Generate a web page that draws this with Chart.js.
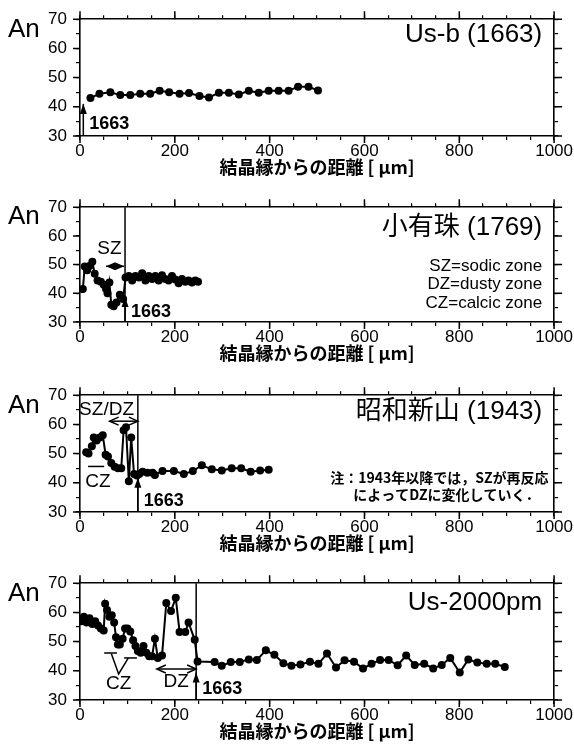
<!DOCTYPE html>
<html>
<head>
<meta charset="utf-8">
<script src="https://cdn.jsdelivr.net/npm/chart.js@4.4.1/dist/chart.umd.min.js"></script>
<style>
    body { margin: 0; background: #fff; width: 574px; height: 747px; position: relative; overflow: hidden; }
    canvas { position: absolute; left: 0; }
</style>
</head>
<body>
<canvas id="panelUsb" width="574" height="188" style="top:0px"></canvas>
<canvas id="panelKousu" width="574" height="188" style="top:188px"></canvas>
<canvas id="panelShowa" width="574" height="188" style="top:376px"></canvas>
<canvas id="panelUs2000" width="574" height="183" style="top:564px"></canvas>
<script>
// Ejes comunes
const xTickLabels = [0, 200, 400, 600, 800, 1000];
const yTickLabels = [30, 40, 50, 60, 70];

// Us-b (1663)
const usbDist = [22, 41, 64, 85, 106, 127, 148, 168, 188, 210, 230, 252, 272, 293, 314, 335, 356, 377, 398, 419, 440, 460, 482, 502];
const usbAn = [43.0, 44.5, 45.0, 44.0, 44.0, 44.5, 44.5, 45.5, 45.0, 44.5, 44.7, 43.7, 43.2, 44.8, 44.8, 44.2, 45.5, 44.8, 45.5, 45.5, 45.5, 46.9, 46.9, 45.6];

// 小有珠 (1769)
const kousuDist = [6, 10, 15, 20, 26, 31, 37, 44, 50, 55, 58, 62, 66, 71, 77, 84, 91,
    96, 103, 110, 117, 124, 131, 138, 145, 152, 159, 166, 173, 180, 187, 194, 201, 208, 215, 222, 229, 236, 243, 249];
const kousuAn = [41.5, 49.3, 48, 49.5, 51, 46.8, 44.5, 44, 43, 41.5, 40, 43.8, 36, 35.5, 36.8, 39.5, 38,
    45.5, 46, 44.5, 46, 45.5, 47, 44.5, 46, 45, 46, 44.5, 46.3, 45, 44.5, 46, 44.8, 43.5, 45, 44, 44.5, 43.8, 44.5, 44];

// 昭和新山 (1943)
const showaDist = [13, 18, 25, 29, 35, 42, 48, 54, 59, 66, 73, 80, 87, 92, 97, 103, 108, 114, 120,
    125, 132, 142, 153, 158, 174, 198, 219, 238, 257, 278, 299, 320, 340, 360, 380, 398];
const showaAn = [50.5, 50, 52.5, 55.5, 54.5, 55.5, 56.3, 49.6, 49, 46.8, 45.5, 45, 45, 58, 59, 40.5, 55.5, 43, 42.5,
    43, 43.8, 43.4, 43.4, 42.7, 44, 44, 43, 44, 46, 44.6, 44.2, 45, 45, 43.8, 44.2, 44.5];

// Us-2000pm
const us2000Dist = [3, 8, 14, 20, 26, 32, 38, 44, 50, 53, 57, 62, 67, 72, 76, 80, 84, 90, 95, 100,
    106, 112, 117, 122, 128, 134, 140, 146, 152, 158, 164, 173, 182, 192, 202, 210, 222, 229, 242, 248,
    284, 299, 318, 337, 356, 373, 392, 410, 429, 446, 465, 485, 503, 521, 540, 558, 578, 597, 615, 633,
    651, 670, 688, 706, 726, 745, 763, 781, 801, 819, 838, 858, 876, 896];
const us2000An = [57, 58.5, 56.5, 58, 56, 57, 55.5, 54.5, 53.8, 63, 60.8, 58.5, 59, 56.5, 51.5, 49, 49, 51, 54.5, 54.5,
    53.5, 50.5, 48.5, 46.8, 46.2, 48.5, 46.2, 45, 45, 51, 44.4, 45.2, 63.2, 60.5, 65, 53.3, 53.3, 56.5, 50.6, 43.2,
    43, 41.7, 43, 43, 43.9, 43.7, 47, 45.5, 42.6, 41.7, 42.2, 43.1, 42.4, 45.9, 41.1, 43.6, 43.1, 40.8, 42.4, 43.7,
    43.7, 41.9, 45.2, 42, 42.4, 40.8, 42, 44.4, 39.4, 43.9, 42.8, 42.4, 42.4, 41.3];

const LATIN = '"Liberation Sans", "Noto Sans CJK JP", sans-serif';
const CJK = '"Noto Sans CJK JP", sans-serif';

// Dibuja textos, flechas y lineas de referencia de cada panel
const notesPlugin = {
    id: 'notes',
    afterDatasetsDraw(chart, args, opts) {
        const ctx = chart.ctx;
        const area = chart.chartArea;
        const sx = chart.scales.x, sy = chart.scales.y;
        const px = v => sx.getPixelForValue(v);
        const py = v => sy.getPixelForValue(v);
        ctx.save();
        ctx.fillStyle = '#000';
        ctx.strokeStyle = '#000';

        function head(x, y, dir, filled) {
            ctx.beginPath();
            if (dir === 'up') {
                ctx.moveTo(x - 3.5, y + 10); ctx.lineTo(x, y); ctx.lineTo(x + 3.5, y + 10);
            } else if (dir === 'left') {
                ctx.moveTo(x + 9, y - 4); ctx.lineTo(x, y); ctx.lineTo(x + 9, y + 4);
            } else {
                ctx.moveTo(x - 9, y - 4); ctx.lineTo(x, y); ctx.lineTo(x - 9, y + 4);
            }
            if (filled) { ctx.closePath(); ctx.fill(); } else { ctx.stroke(); }
        }

        // marcas mayores mas largas en los cuatro lados
        ctx.lineWidth = 1.5;
        ctx.beginPath();
        xTickLabels.forEach(v => {
            const x = px(v);
            ctx.moveTo(x, area.top); ctx.lineTo(x, area.top - 8);
            ctx.moveTo(x, area.bottom); ctx.lineTo(x, area.bottom + 7);
        });
        yTickLabels.forEach(v => {
            const y = py(v);
            ctx.moveTo(area.left, y); ctx.lineTo(area.left - 7, y);
            ctx.moveTo(area.right, y); ctx.lineTo(area.right + 8, y);
        });
        ctx.stroke();

        // "An" y titulo del eje x
        ctx.font = '26px ' + LATIN;
        ctx.textAlign = 'left';
        ctx.textBaseline = 'alphabetic';
        ctx.fillText('An', 8, py(64));
        ctx.font = 'bold 18px ' + CJK;
        ctx.textAlign = 'center';
        ctx.textBaseline = 'middle';
        ctx.fillText('結晶縁からの距離 [ μm]', (area.left + area.right) / 2, area.bottom + 31);

        (opts.items || []).forEach(it => {
            if (it.type === 'vline') {
                ctx.lineWidth = 1.5;
                ctx.beginPath();
                ctx.moveTo(px(it.x), area.top);
                ctx.lineTo(px(it.x), area.bottom);
                ctx.stroke();
            } else if (it.type === 'arrow1663') {
                const x = px(it.x);
                ctx.lineWidth = 1.5;
                ctx.beginPath();
                ctx.moveTo(x, area.bottom);
                ctx.lineTo(x, py(it.tip));
                ctx.stroke();
                head(x, py(it.tip), 'up', true);
                ctx.font = 'bold 18px ' + LATIN;
                ctx.textAlign = 'left';
                ctx.textBaseline = 'alphabetic';
                ctx.fillText('1663', x + 6, py(it.label));
            } else if (it.type === 'text') {
                ctx.font = it.font;
                ctx.textAlign = it.align || 'center';
                ctx.textBaseline = 'middle';
                ctx.fillText(it.text, px(it.x), py(it.y));
            } else if (it.type === 'darrow') {
                const x1 = px(it.x1), x2 = px(it.x2), y = py(it.y);
                ctx.lineWidth = 1.5;
                ctx.beginPath();
                ctx.moveTo(x1, y); ctx.lineTo(x2, y);
                ctx.stroke();
                head(x1, y, 'left', it.filled);
                head(x2, y, 'right', it.filled);
            } else if (it.type === 'path') {
                ctx.lineWidth = 1.5;
                ctx.beginPath();
                it.pts.forEach((p, i) => i ? ctx.lineTo(px(p[0]), py(p[1])) : ctx.moveTo(px(p[0]), py(p[1])));
                ctx.stroke();
            }
        });
        ctx.restore();
    }
};

function tickGrid() {
    return {
        drawOnChartArea: false,
        drawTicks: true,
        tickLength: 4,
        color: '#000',
        lineWidth: 1.2
    };
}

function makePanel(id, dist, an, topH, bottomH, items) {
    const tickFont = { family: LATIN, size: 17 };
    new Chart(document.getElementById(id), {
        type: 'line',
        data: {
            datasets: [{
                data: dist.map((d, i) => ({ x: d, y: an[i] })),
                borderColor: '#000',
                borderWidth: 2,
                pointRadius: 4,
                pointBackgroundColor: '#000',
                pointBorderWidth: 0,
                tension: 0
            }]
        },
        options: {
            responsive: false,
            animation: false,
            events: [],
            layout: { padding: 0 },
            plugins: {
                legend: { display: false },
                tooltip: { enabled: false },
                notes: { items: items }
            },
            scales: {
                x: {
                    type: 'linear', position: 'bottom', min: 0, max: 1000,
                    ticks: {
                        stepSize: 50, autoSkip: false, maxRotation: 0, padding: 1,
                        color: '#000', font: tickFont,
                        callback: v => xTickLabels.includes(v) ? String(v) : ''
                    },
                    grid: tickGrid(),
                    border: { color: '#000', width: 1.6 },
                    afterFit: s => { s.height = bottomH; }
                },
                x2: {
                    type: 'linear', position: 'top', min: 0, max: 1000,
                    ticks: { stepSize: 50, autoSkip: false, callback: () => '' },
                    grid: tickGrid(),
                    border: { color: '#000', width: 1.6 },
                    afterFit: s => { s.height = topH; }
                },
                y: {
                    type: 'linear', position: 'left', min: 30, max: 70,
                    ticks: {
                        stepSize: 5, autoSkip: false, padding: 9,
                        color: '#000', font: tickFont,
                        callback: v => yTickLabels.includes(v) ? String(v) : ''
                    },
                    grid: tickGrid(),
                    border: { color: '#000', width: 1.6 },
                    afterFit: s => { s.width = 80; }
                },
                y2: {
                    type: 'linear', position: 'right', min: 30, max: 70,
                    ticks: { stepSize: 5, autoSkip: false, callback: () => '' },
                    grid: tickGrid(),
                    border: { color: '#000', width: 1.6 },
                    afterFit: s => { s.width = 14; }
                }
            }
        },
        plugins: [notesPlugin]
    });
}

document.addEventListener('DOMContentLoaded', function () {
    const titleFont = '26px ' + LATIN;
    const zoneFont = '19px ' + LATIN;

    makePanel('panelUsb', usbDist, usbAn, 16, 52, [
        { type: 'text', text: 'Us-b (1663)', x: 975, y: 64.5, font: titleFont, align: 'right' },
        { type: 'arrow1663', x: 7, tip: 41, label: 32.4 }
    ]);

    makePanel('panelKousu', kousuDist, kousuAn, 14, 54, [
        { type: 'vline', x: 95 },
        { type: 'text', text: '小有珠 (1769)', x: 975, y: 62.9, font: titleFont, align: 'right' },
        { type: 'text', text: 'SZ', x: 62, y: 55.6, font: zoneFont },
        { type: 'darrow', x1: 55, x2: 93, y: 49.4, filled: true },
        { type: 'text', text: 'SZ=sodic zone', x: 975, y: 49.4, font: '17px ' + LATIN, align: 'right' },
        { type: 'text', text: 'DZ=dusty zone', x: 975, y: 43, font: '17px ' + LATIN, align: 'right' },
        { type: 'text', text: 'CZ=calcic zone', x: 975, y: 36.4, font: '17px ' + LATIN, align: 'right' },
        { type: 'arrow1663', x: 95, tip: 38.7, label: 31.9 }
    ]);

    makePanel('panelShowa', showaDist, showaAn, 16, 52, [
        { type: 'vline', x: 122 },
        { type: 'text', text: '昭和新山 (1943)', x: 975, y: 64.4, font: titleFont, align: 'right' },
        { type: 'text', text: 'SZ/DZ', x: 56, y: 65, font: zoneFont },
        { type: 'darrow', x1: 62.5, x2: 122, y: 61.1, filled: false },
        { type: 'path', pts: [[17, 45.6], [51, 45.6]] },
        { type: 'text', text: 'CZ', x: 38, y: 40.2, font: zoneFont },
        { type: 'text', text: '注：1943年以降では，SZが再反応', x: 758, y: 41.7, font: 'bold 14px ' + CJK },
        { type: 'text', text: 'によってDZに変化していく．', x: 773, y: 35.9, font: 'bold 14px ' + CJK },
        { type: 'arrow1663', x: 122, tip: 41.7, label: 32.2 }
    ]);

    makePanel('panelUs2000', us2000Dist, us2000An, 16, 47, [
        { type: 'vline', x: 245 },
        { type: 'text', text: 'Us-2000pm', x: 975, y: 63.3, font: titleFont, align: 'right' },
        { type: 'path', pts: [[51, 46.1], [78, 46.1]] },
        { type: 'path', pts: [[66, 45.9], [81.5, 38.9], [102, 44.4]] },
        { type: 'path', pts: [[93, 44.4], [120, 44.4]] },
        { type: 'text', text: 'CZ', x: 81.5, y: 35.6, font: zoneFont },
        { type: 'darrow', x1: 162, x2: 245, y: 40.6, filled: false },
        { type: 'text', text: 'DZ', x: 203, y: 36.3, font: zoneFont },
        { type: 'arrow1663', x: 245, tip: 39.4, label: 32.2 }
    ]);
});
</script>
</body>
</html>
